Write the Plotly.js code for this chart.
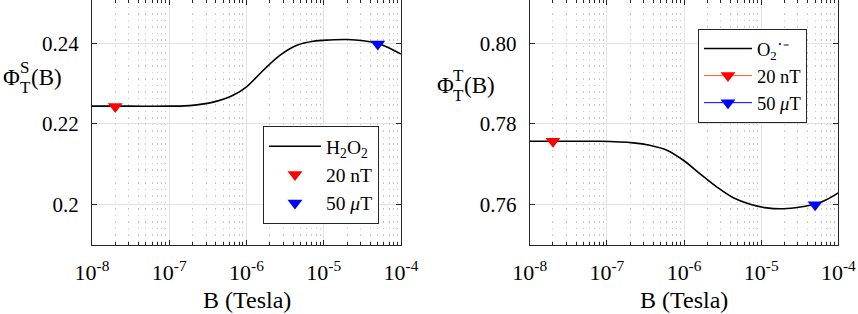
<!DOCTYPE html>
<html><head><meta charset="utf-8">
<script src="https://cdn.plot.ly/plotly-3.0.1.min.js"></script>
<style>body{margin:0;background:#fff}#c{width:858px;height:314px}</style>
</head><body><div id="c"></div>
<script>
// Left panel: H2O2 singlet yield
const bLeft = [1e-8, 3e-8, 1e-7, 2e-7, 3.7e-7, 6.7e-7, 1e-6, 1.65e-6, 2.7e-6, 4.5e-6, 7.3e-6, 1.2e-5, 2e-5, 3.25e-5, 5.3e-5, 7e-5, 1e-4];
const phiS   = [0.2244, 0.2244, 0.2244, 0.2246, 0.2254, 0.2271, 0.2292, 0.2333, 0.2370, 0.2395, 0.2405, 0.2408, 0.2409, 0.2406, 0.2398, 0.2388, 0.2373];
// Right panel: superoxide triplet yield
const bRight = [1e-8, 3e-8, 8e-8, 2.2e-7, 3.6e-7, 6e-7, 9.8e-7, 1.6e-6, 2.65e-6, 4.35e-6, 7.2e-6, 1.18e-5, 1.94e-5, 3.2e-5, 5.25e-5, 7e-5, 1e-4];
const phiT   = [0.7757, 0.7757, 0.7757, 0.7753, 0.7747, 0.7735, 0.7710, 0.7677, 0.7644, 0.7617, 0.7601, 0.7592, 0.7590, 0.7594, 0.7602, 0.7612, 0.7629];
// Marked field strengths
const markB = [2e-8, 5e-5];
const markLabels = ['20 nT', '50 <i>μ</i>T'];
const markLeft = [0.2243, 0.2398];
const markRight = [0.7757, 0.7600];
const xTickVals = [1e-8, 1e-7, 1e-6, 1e-5, 1e-4];
const xTickText = ['10<sup>-8</sup>', '10<sup>-7</sup>', '10<sup>-6</sup>', '10<sup>-5</sup>', '10<sup>-4</sup>'];
const yTickLeft = [0.2, 0.22, 0.24];
const yTickLeftText = ['0.2', '0.22', '0.24'];
const yTickRight = [0.76, 0.78, 0.80];
const yTickRightText = ['0.76', '0.78', '0.80'];

const serif = '"Liberation Serif"';
const axisCol = '#262626';

const traces = [
  {x: bLeft, y: phiS, mode: 'lines', line: {color: '#000', width: 1.6, shape: 'spline'}, name: 'H<sub>2</sub>O<sub>2</sub>', xaxis: 'x', yaxis: 'y', legend: 'legend'},
  {x: [markB[0]], y: [markLeft[0]], mode: 'markers', marker: {symbol: 'triangle-down', size: 13, color: '#ff0000'}, name: markLabels[0], xaxis: 'x', yaxis: 'y', legend: 'legend'},
  {x: [markB[1]], y: [markLeft[1]], mode: 'markers', marker: {symbol: 'triangle-down', size: 13, color: '#0000ff'}, name: markLabels[1], xaxis: 'x', yaxis: 'y', legend: 'legend'},
  {x: bRight, y: phiT, mode: 'lines', line: {color: '#000', width: 1.6, shape: 'spline'}, name: 'O<sub>2</sub>˙⁻', xaxis: 'x2', yaxis: 'y2', legend: 'legend2'},
  {x: [markB[0]], y: [markRight[0]], mode: 'lines+markers', line: {color: '#ff5a36', width: 1}, marker: {symbol: 'triangle-down', size: 13, color: '#ff0000'}, name: markLabels[0], xaxis: 'x2', yaxis: 'y2', legend: 'legend2'},
  {x: [markB[1]], y: [markRight[1]], mode: 'lines+markers', line: {color: '#0000ff', width: 1}, marker: {symbol: 'triangle-down', size: 13, color: '#0000ff'}, name: markLabels[1], xaxis: 'x2', yaxis: 'y2', legend: 'legend2'}
];

function xAxis(domain, anchor) {
  return {
    type: 'log', range: [-8.0001, -3.9999], domain: domain, anchor: anchor,
    tickvals: xTickVals, ticktext: xTickText,
    tickfont: {family: serif, size: 22, color: '#000'}, ticklabelstandoff: 8,
    ticks: 'inside', ticklen: 5, tickcolor: axisCol, tickwidth: 1,
    showline: true, linecolor: axisCol, linewidth: 1, mirror: 'ticks',
    showgrid: true, gridcolor: '#e3e3e3', gridwidth: 1, zeroline: false,
    minor: {dtick: 'D1', ticks: 'inside', ticklen: 3, tickcolor: axisCol, showgrid: true, gridcolor: '#c8c8c8', griddash: '1.5px,5px', gridwidth: 1}
  };
}
function yAxis(domain, anchor, range, vals, text) {
  return {
    range: range, domain: domain, anchor: anchor, tickvals: vals, ticktext: text,
    tickfont: {family: serif, size: 21, color: '#000'},
    ticks: 'inside', ticklen: 5, tickcolor: axisCol, tickwidth: 1,
    showline: true, linecolor: axisCol, linewidth: 1, mirror: 'ticks',
    showgrid: true, gridcolor: '#e3e3e3', gridwidth: 1, zeroline: false, ticklabelstandoff: 8
  };
}
const yDom = [0.2197, 1];
function ann(text, px, py, size) {
  return {text: text, xref: 'paper', yref: 'paper', x: px / 858, y: 1 - py / 314, xanchor: 'left', yanchor: 'middle', showarrow: false, font: {family: serif, size: size, color: '#000'}};
}
const layout = {
  width: 858, height: 314, margin: {l: 0, r: 0, t: 0, b: 0},
  paper_bgcolor: '#fff', plot_bgcolor: '#fff',
  font: {family: serif},
  xaxis: xAxis([0.1072, 0.4674], 'y'),
  yaxis: yAxis(yDom, 'x', [0.19, 0.2507], yTickLeft, yTickLeftText),
  xaxis2: xAxis([0.6174, 0.9771], 'y2'),
  yaxis2: yAxis(yDom, 'x2', [0.75, 0.8107], yTickRight, yTickRightText),
  showlegend: true,
  legend: {x: 0.3065, y: 0.5987, xanchor: 'left', yanchor: 'top', bgcolor: '#fff', bordercolor: axisCol, borderwidth: 1, font: {family: serif, size: 19.5, color: '#000'}, tracegroupgap: 0, itemwidth: 52},
  legend2: {x: 0.8135, y: 0.9076, xanchor: 'left', yanchor: 'top', bgcolor: '#fff', bordercolor: axisCol, borderwidth: 1, font: {family: serif, size: 18.5, color: '#000'}, tracegroupgap: 0, itemwidth: 48},
  annotations: [
    Object.assign(ann('B (Tesla)', 247, 300, 24), {xanchor: 'center'}),
    Object.assign(ann('B (Tesla)', 684, 300, 24), {xanchor: 'center'}),
    ann('Φ', 1, 77, 23), ann('S', 18, 67, 17), ann('T', 18, 88, 17), ann('(B)', 29, 77, 23),
    ann('Φ', 435, 86, 23), ann('T', 451, 76, 17), ann('T', 451, 96, 17), ann('(B)', 462, 86, 23)
  ]
};
Plotly.newPlot('c', traces, layout, {staticPlot: true, displayModeBar: false});
</script></body></html>
